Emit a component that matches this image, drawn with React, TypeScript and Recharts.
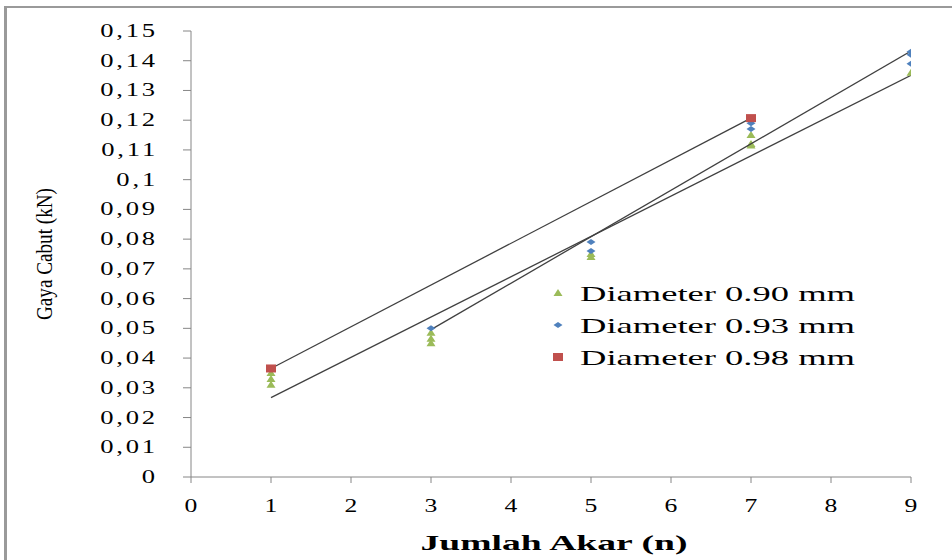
import { ComposedChart, Scatter, XAxis, YAxis } from "recharts"

// tick labels
const xTicks = [0, 1, 2, 3, 4, 5, 6, 7, 8, 9]
const yTicks = [0, 0.01, 0.02, 0.03, 0.04, 0.05, 0.06, 0.07, 0.08, 0.09, 0.1, 0.11, 0.12, 0.13, 0.14, 0.15]

// Diameter 0.90 mm
const d90x = [1, 1, 1, 3, 3, 3, 5, 5, 7, 7, 7, 9]
const d90y = [0.035, 0.033, 0.031, 0.0485, 0.0465, 0.045, 0.075, 0.074, 0.115, 0.1115, 0.112, 0.136]
// Diameter 0.93 mm
const d93x = [3, 5, 5, 7, 7, 9, 9, 9]
const d93y = [0.05, 0.079, 0.076, 0.119, 0.117, 0.143, 0.142, 0.139]
// Diameter 0.98 mm
const d98x = [1, 7]
const d98y = [0.0365, 0.1207]

const legendNames = ["Diameter 0.90 mm", "Diameter 0.93 mm", "Diameter 0.98 mm"]

const GREEN = "#9bbb59"
const BLUE = "#4f81bd"
const RED = "#c0504d"
const SERIF = { fontFamily: "Liberation Serif, Times New Roman, serif" }

const toPoints = (xs: number[], ys: number[]) => xs.map((x, i) => ({ x, y: ys[i] }))

const triangle = (cx: number, cy: number) => (
  <path d={`M${cx},${cy - 4}L${cx + 4.5},${cy + 3}L${cx - 4.5},${cy + 3}Z`} fill={GREEN} />
)
const diamond = (cx: number, cy: number) => (
  <path d={`M${cx - 4.5},${cy}L${cx},${cy - 3}L${cx + 4.5},${cy}L${cx},${cy + 3}Z`} fill={BLUE} />
)
const square = (cx: number, cy: number) => <rect x={cx - 5} y={cy - 4} width={10} height={8} fill={RED} />

const markers = [triangle, diamond, square]

const XTick = (props: any) => {
  const { x, y, payload } = props
  const ty = y + 27
  return (
    <text
      x={x}
      y={ty}
      textAnchor="middle"
      style={SERIF}
      fontSize={19}
      fill="#000"
      transform={`translate(${x},${ty}) scale(1.35,1) translate(${-x},${-ty})`}
    >
      {payload.value}
    </text>
  )
}

const YTick = (props: any) => {
  const { x, y, payload } = props
  const ty = y + 6
  const label = String(payload.value).replace(".", ",")
  return (
    <text
      x={x}
      y={ty}
      textAnchor="end"
      style={SERIF}
      fontSize={19}
      letterSpacing={2}
      fill="#000"
      transform={`translate(${x},${ty}) scale(1.4,1) translate(${-x},${-ty})`}
    >
      {label}
    </text>
  )
}

const LegendBox = () => (
  <svg width={330} height={100} style={{ position: "absolute", left: 548, top: 280 }}>
    {legendNames.map((name, i) => {
      const cy = 13 + i * 32
      return (
        <g key={name}>
          {markers[i](10, cy)}
          <text x={32} y={cy + 8} style={SERIF} fontSize={22} fill="#000" textLength={275} lengthAdjust="spacingAndGlyphs">
            {name}
          </text>
        </g>
      )
    })}
  </svg>
)

export default function App() {
  const line = { stroke: "#404040", strokeWidth: 1.3 }
  return (
    <div style={{ position: "absolute", left: 0, top: 0, width: 952, height: 560, background: "#fff" }}>
      <div
        style={{
          position: "absolute",
          left: 4,
          top: 6,
          width: 948,
          height: 554,
          borderLeft: "3px solid #9a9a9a",
          borderTop: "2px solid #9a9a9a",
          boxSizing: "border-box",
        }}
      />
      <ComposedChart width={952} height={560} margin={{ top: 31, right: 41, left: 0, bottom: 0 }}>
        <XAxis
          type="number"
          dataKey="x"
          domain={[0, 9]}
          ticks={xTicks}
          interval={0}
          height={83}
          stroke="#868686"
          tickSize={6}
          tick={<XTick />}
          allowDataOverflow
        />
        <YAxis
          type="number"
          dataKey="y"
          domain={[0, 0.15]}
          ticks={yTicks}
          interval={0}
          width={191}
          stroke="#868686"
          tickSize={8}
          tickMargin={25}
          tick={<YTick />}
          allowDataOverflow
        />
        <Scatter
          name={legendNames[0]}
          data={toPoints(d90x, d90y)}
          shape={(p: any) => triangle(p.cx, p.cy)}
          line={line}
          lineType="fitting"
          isAnimationActive={false}
        />
        <Scatter
          name={legendNames[1]}
          data={toPoints(d93x, d93y)}
          shape={(p: any) => diamond(p.cx, p.cy)}
          line={line}
          lineType="fitting"
          isAnimationActive={false}
        />
        <Scatter
          name={legendNames[2]}
          data={toPoints(d98x, d98y)}
          shape={(p: any) => square(p.cx, p.cy)}
          line={line}
          lineType="fitting"
          isAnimationActive={false}
        />
        <text
          x={554}
          y={550}
          textAnchor="middle"
          style={SERIF}
          fontWeight="bold"
          fontSize={22}
          fill="#000"
          textLength={267}
          lengthAdjust="spacingAndGlyphs"
        >
          Jumlah Akar (n)
        </text>
        <text
          x={52}
          y={254}
          textAnchor="middle"
          style={SERIF}
          fontSize={23}
          fill="#000"
          textLength={132}
          lengthAdjust="spacingAndGlyphs"
          transform="rotate(-90, 52, 254)"
        >
          Gaya Cabut (kN)
        </text>
      </ComposedChart>
      <LegendBox />
    </div>
  )
}
